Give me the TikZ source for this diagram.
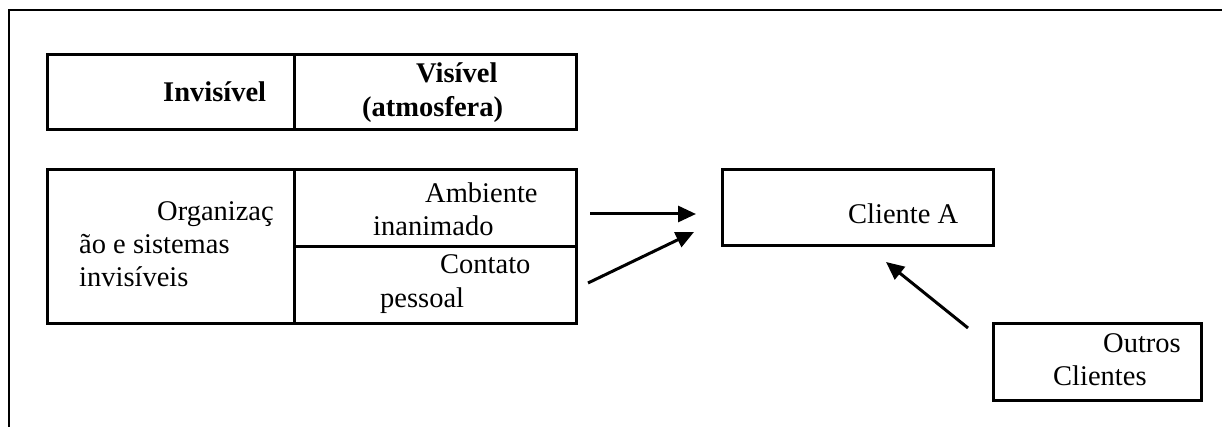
\documentclass[tikz,border=0pt]{standalone}
\usepackage{fontspec}
\setmainfont{Liberation Serif}
\usetikzlibrary{arrows.meta}
\begin{document}
\begin{tikzpicture}[x=1pt,y=-1pt,
  frameline/.style={line width=2.6pt},
  cellbox/.style={draw,line width=2.6pt,inner sep=0pt,anchor=north west},
  txt/.style={anchor=base west,inner sep=0pt,font=\fontsize{28.5}{33}\selectfont},
  btxt/.style={txt,font=\fontsize{28.5}{33}\selectfont\bfseries},
  flow/.style={line width=3pt,-{Triangle[length=18pt,width=16pt]}}]
\useasboundingbox (0,0) rectangle (1222,427);
% outer frame (top and left only)
\coordinate (f1) at (9,427);
\coordinate (f2) at (9,10);
\coordinate (f3) at (1222,10);
\draw[frameline] (f1) -- (f2) -- (f3);
% top table
\node[cellbox,minimum width=247pt,minimum height=75pt] (inv) at (46,53) {};
\node[cellbox,minimum width=282pt,minimum height=75pt] (vis) at (293,53) {};
\node[btxt] (tinv) at (163,102) {Invisível};
\node[btxt] (tvis1) at (416,83) {Visível};
\node[btxt] (tvis2) at (362,117) {(atmosfera)};
% bottom table
\node[cellbox,minimum width=247pt,minimum height=154pt] (org) at (46,168) {};
\node[cellbox,minimum width=282pt,minimum height=77pt] (amb) at (293,168) {};
\node[cellbox,minimum width=282pt,minimum height=77pt] (con) at (293,245) {};
\node[txt] (torg1) at (157,221) {Organizaç};
\node[txt] (torg2) at (79,254) {ão e sistemas};
\node[txt] (torg3) at (79,287) {invisíveis};
\node[txt] (tamb1) at (425,203) {Ambiente};
\node[txt] (tamb2) at (373,236) {inanimado};
\node[txt] (tcon1) at (440,274) {Contato};
\node[txt] (tcon2) at (380,307) {pessoal};
% Cliente A
\node[cellbox,minimum width=271pt,minimum height=76pt] (cli) at (721,168) {};
\node[txt] (tcli) at (848,224) {Cliente A};
% Outros Clientes
\node[cellbox,minimum width=208pt,minimum height=77pt] (out) at (992,322) {};
\node[txt] (tout1) at (1103,352) {Outros};
\node[txt] (tout2) at (1053,385) {Clientes};
% arrows
\coordinate (a1s) at (590,214);
\coordinate (a1e) at (696,214);
\coordinate (a2s) at (588,283);
\coordinate (a2e) at (694,232);
\coordinate (a3s) at (968,328);
\coordinate (a3e) at (886,262);
\draw[flow] (a1s) -- (a1e);
\draw[flow] (a2s) -- (a2e);
\draw[flow] (a3s) -- (a3e);
\end{tikzpicture}
\end{document}
